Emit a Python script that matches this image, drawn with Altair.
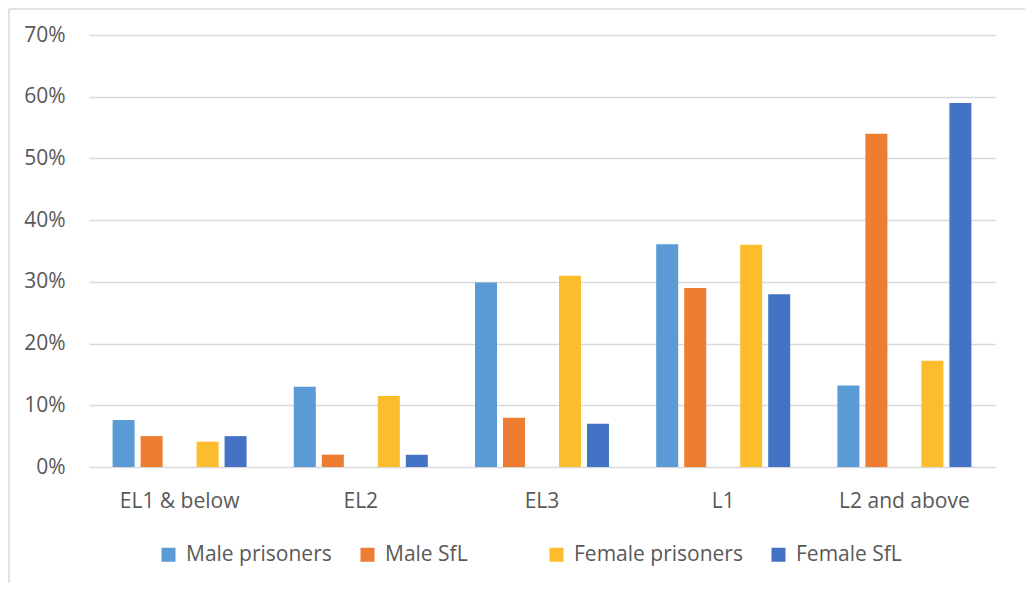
import altair as alt
import pandas as pd

categories = ["EL1 & below", "EL2", "EL3", "L1", "L2 and above"]
series = ["Male prisoners", "Male SfL", "Female prisoners", "Female SfL"]
male_prisoners = [7.6, 13.0, 29.9, 36.1, 13.2]
male_sfl = [5.0, 2.0, 8.0, 29.0, 54.0]
female_prisoners = [4.1, 11.5, 31.0, 36.0, 17.2]
female_sfl = [5.0, 2.0, 7.0, 28.0, 59.0]

BLANK = "_blank"
slot_order = ["Male prisoners", "Male SfL", BLANK, "Female prisoners", "Female SfL"]
colors = ["#5B9BD5", "#ED7D31", "rgba(0,0,0,0)", "#FCBD2C", "#4472C4"]

rows = []
for name, vals in zip(series, [male_prisoners, male_sfl, female_prisoners, female_sfl]):
    for c, v in zip(categories, vals):
        rows.append({"Level": c, "Series": name, "Value": v / 100})
df = pd.DataFrame(rows)

FONT = "Open Sans"
TXT = "#595959"
W, H = 906, 432
PL, PT, PR, PB = 81, 27, 30, 116

bars = alt.Chart(df).mark_bar().encode(
    x=alt.X("Level:N", sort=categories,
            scale=alt.Scale(paddingInner=0, paddingOuter=0),
            axis=alt.Axis(title=None, labelAngle=0, ticks=False, domain=False,
                          labelPadding=23, labelFontSize=21, labelFont=FONT,
                          labelColor=TXT, labelLimit=0)),
    xOffset=alt.XOffset("Series:N", sort=slot_order,
                        scale=alt.Scale(domain=slot_order, paddingInner=0.214,
                                        paddingOuter=0.843)),
    y=alt.Y("Value:Q", scale=alt.Scale(domain=[0, 0.7]),
            axis=alt.Axis(title=None, format=".0%", values=[i / 10 for i in range(8)],
                          ticks=False, domain=False, labelPadding=24,
                          labelFontSize=21, labelFont=FONT, labelColor=TXT,
                          gridColor="#D9D9D9", gridWidth=1.4)),
    color=alt.Color("Series:N",
                    scale=alt.Scale(domain=slot_order, range=colors),
                    legend=alt.Legend(title=None, orient="none", direction="horizontal",
                                      legendX=69, legendY=509,
                                      labelExpr="datum.label == '_blank' ? '' : datum.label",
                                      symbolType="square", symbolSize=196,
                                      symbolStrokeWidth=0, labelOffset=7,
                                      columnPadding=25, labelFontSize=21,
                                      labelFont=FONT, labelColor=TXT, labelLimit=0)),
)

frame_top = alt.Chart(pd.DataFrame({"a": [0]})).mark_rule(color="#D9D9D9", strokeWidth=1.5).encode(
    x=alt.value(-PL + 1), x2=alt.value(W + PR), y=alt.value(-PT + 1)
)
frame_left = alt.Chart(pd.DataFrame({"a": [0]})).mark_rule(color="#D9D9D9", strokeWidth=1.5).encode(
    x=alt.value(-PL + 1), y=alt.value(-PT + 1), y2=alt.value(H + PB)
)

chart = alt.layer(bars, frame_top, frame_left).properties(
    width=W, height=H,
    autosize=alt.AutoSizeParams(type="none"),
    padding={"left": PL, "top": PT, "right": PR, "bottom": PB},
    background="white",
).configure_view(strokeWidth=0, stroke=None)

chart.save("out.html", embed_options={"renderer": "svg", "actions": False})
